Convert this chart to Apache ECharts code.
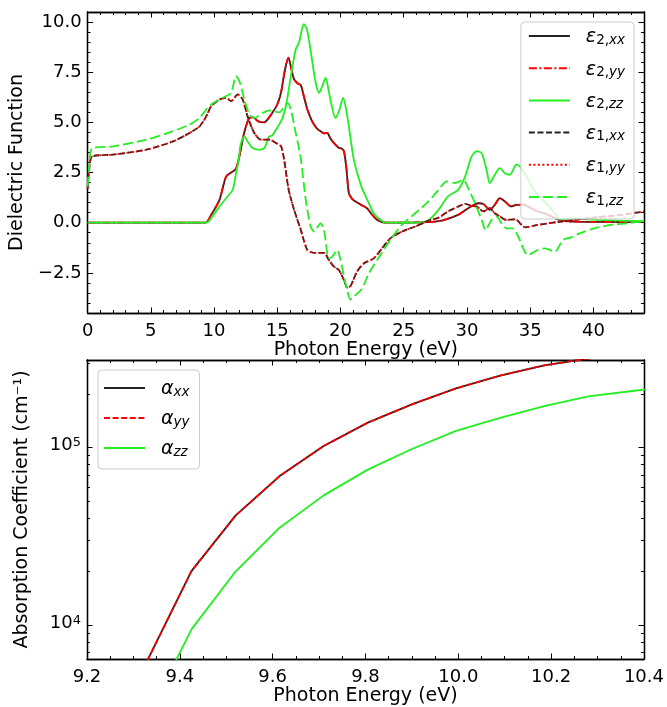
<!DOCTYPE html>
<html><head><meta charset="utf-8">
<script src="https://cdn.jsdelivr.net/npm/echarts@6/dist/echarts.min.js"></script>
<style>html,body{margin:0;padding:0;background:#fff}#c{width:667px;height:707px}</style>
</head><body><div id="c"></div><script>
// ---------------- DATA ----------------
// Top panel: dielectric function (energy in eV)
const e2xxE = [0, 9.33, 9.77, 10.43, 10.95, 11.47, 11.74, 12.0, 12.26, 12.5, 12.79, 13.1, 13.5, 13.97, 14.3, 14.6, 15.0, 15.3, 15.6, 15.88, 16.1, 16.33, 16.6, 16.86, 17.1, 17.38, 17.65, 17.9, 18.2, 18.43, 18.7, 18.95, 19.2, 19.48, 19.87, 20.1, 20.27, 20.45, 20.66, 20.9, 21.19, 21.6, 22.1, 22.5, 22.9, 23.55, 27.0, 28.0, 28.5, 29.3, 30.1, 30.9, 31.3, 31.8, 32.2, 32.6, 33.0, 33.5, 33.9, 34.5, 35.0, 35.6, 36.2, 36.7, 37.46, 38.5, 40, 44];
const e2xxV = [0, 0, 0.39, 1.14, 2.3, 2.55, 2.7, 3.3, 4.14, 4.75, 5.22, 5.25, 5.05, 5.0, 5.2, 5.47, 5.89, 6.5, 7.6, 8.22, 7.7, 7.14, 6.95, 6.85, 6.3, 5.64, 5.2, 4.89, 4.65, 4.56, 4.45, 4.47, 4.2, 3.97, 3.72, 3.7, 3.56, 2.8, 1.47, 1.2, 1.06, 0.9, 0.72, 0.4, 0.14, 0.0, 0.03, 0.1, 0.2, 0.39, 0.72, 0.97, 0.93, 0.64, 0.89, 1.22, 1.06, 0.81, 0.89, 0.9, 0.75, 0.56, 0.45, 0.31, 0.1, 0.05, 0.04, 0.03];
const e2yyE = e2xxE.slice();
const e2yyV = e2xxV.slice();
const e2zzE = [0, 9.4, 9.9, 10.43, 10.95, 11.47, 11.74, 11.95, 12.1, 12.4, 12.7, 13.0, 13.44, 13.97, 14.36, 14.6, 14.9, 15.15, 15.4, 15.68, 15.9, 16.07, 16.46, 16.72, 16.9, 17.1, 17.3, 17.5, 17.9, 18.1, 18.3, 18.55, 18.83, 19.0, 19.2, 19.6, 19.9, 20.2, 20.4, 20.66, 21.05, 21.4, 21.7, 22.24, 22.6, 23.0, 23.55, 26.5, 27.0, 27.75, 28.5, 29.3, 29.85, 30.37, 30.77, 31.16, 31.55, 31.8, 32.2, 32.6, 33.0, 33.4, 33.9, 34.18, 34.7, 35.1, 35.6, 36.4, 36.94, 37.46, 37.98, 38.8, 40, 42, 44];
const e2zzV = [0, 0, 0.35, 0.81, 1.22, 1.64, 2.47, 3.14, 3.9, 4.3, 4.0, 3.75, 3.64, 3.72, 4.3, 4.35, 4.64, 4.89, 5.2, 5.8, 6.6, 7.3, 8.64, 8.97, 9.5, 9.89, 9.7, 9.14, 7.47, 6.8, 6.47, 6.8, 7.22, 6.8, 6.14, 5.22, 5.6, 6.22, 5.8, 4.8, 3.14, 2.3, 1.72, 0.97, 0.5, 0.22, 0, 0.02, 0.14, 0.64, 1.31, 1.64, 2.3, 3.3, 3.56, 3.47, 2.64, 1.97, 2.39, 2.72, 2.47, 2.39, 2.89, 2.8, 2.3, 1.8, 1.39, 0.89, 0.47, 0.14, 0.22, 0.22, 0.15, 0.1, 0.08];
const e1xxE = [0, 0.15, 0.35, 2.0, 4.65, 6.75, 8.06, 8.85, 9.38, 9.77, 10.43, 10.95, 11.35, 11.87, 12.26, 12.65, 13.18, 13.7, 14.36, 14.9, 15.3, 15.54, 15.9, 16.33, 16.86, 17.38, 17.9, 18.69, 19.08, 19.48, 19.87, 20.27, 20.53, 20.79, 21.3, 21.84, 22.63, 23.28, 23.94, 24.86, 25.91, 26.96, 27.75, 28.5, 29.6, 29.85, 30.37, 30.77, 31.3, 31.8, 32.2, 32.6, 33.1, 33.8, 34.6, 35.6, 37.46, 40, 42.3, 44];
const e1xxV = [1.7, 2.8, 3.3, 3.39, 3.64, 4.05, 4.47, 4.8, 5.3, 5.8, 6.14, 6.22, 6.06, 6.39, 6.14, 5.3, 4.47, 4.14, 4.14, 3.97, 3.8, 3.14, 1.64, 0.64, -0.36, -1.36, -1.5, -1.5, -1.86, -2.19, -2.36, -2.86, -3.23, -3.16, -2.44, -2.03, -1.78, -1.28, -0.78, -0.44, -0.19, 0.1, 0.25, 0.56, 0.89, 0.94, 0.84, 0.81, 0.56, 0.72, 0.47, 0.31, 0.14, 0.17, -0.23, -0.11, 0.06, 0.25, 0.4, 0.56];
const e1yyE = e1xxE.slice();
const e1yyV = e1xxV.slice();
const e1zzE = [0, 0.15, 0.35, 2.0, 4.65, 6.75, 8.06, 8.85, 9.38, 9.77, 10.43, 10.95, 11.35, 11.74, 12.0, 12.4, 12.79, 13.18, 13.83, 14.4, 15.15, 15.4, 15.8, 16.07, 16.46, 16.86, 17.25, 17.64, 17.9, 18.43, 18.69, 19.08, 19.34, 19.74, 20.0, 20.4, 20.79, 21.05, 21.7, 22.24, 23.15, 23.94, 24.86, 25.91, 26.96, 27.75, 28.4, 29.06, 29.7, 30.1, 30.64, 31.16, 31.47, 31.95, 32.34, 32.73, 33.13, 33.65, 34.05, 34.83, 35.6, 36.15, 36.94, 37.6, 38.24, 38.9, 40.08, 41.4, 42.7, 43.75, 44];
const e1zzV = [1.8, 3.0, 3.7, 3.8, 4.14, 4.56, 4.89, 5.22, 5.64, 5.89, 6.14, 6.31, 6.47, 7.3, 7.06, 6.14, 5.39, 5.22, 5.47, 5.6, 5.5, 5.64, 5.97, 5.64, 4.47, 3.2, 1.14, -0.19, -0.44, -0.03, -0.36, -1.78, -1.69, -1.36, -1.86, -3.03, -3.83, -3.69, -3.28, -2.53, -1.61, -0.86, -0.11, 0.47, 1.06, 1.64, 2.06, 1.97, 2.14, 1.72, 0.97, 0.14, -0.36, 0.14, 0.31, -0.03, -0.28, -0.28, -0.69, -1.61, -1.36, -1.28, -1.44, -0.86, -0.73, -0.53, -0.28, -0.11, -0.03, 0.06, 0.08];

// Bottom panel: absorption coefficient (cm^-1)
const absE = [9.33, 9.425, 9.52, 9.615, 9.71, 9.805, 9.90, 9.995, 10.09, 10.185, 10.28, 10.375, 10.47];
const alphaXX = [6300, 20100, 41300, 69000, 102000, 138000, 175000, 215000, 254000, 290000, 317000, 340000, 362000];
const alphaYY = alphaXX.slice();
const alphaZZ = [3000, 9440, 20000, 35300, 53700, 75000, 98000, 124000, 147000, 171000, 194000, 208000, 222000];

// Tick labels
const topXTicks = [0, 5, 10, 15, 20, 25, 30, 35, 40];
const topYTicks = [-2.5, 0, 2.5, 5, 7.5, 10];
const botXTicks = [9.2, 9.4, 9.6, 9.8, 10.0, 10.2, 10.4];
const botYTicks = [10000, 100000];

// ---------------- HELPERS ----------------
const FONT = 'DejaVu Sans';
const R = v => Math.round(v * 1000) / 1000;
function range(a, b, s) { const r = []; for (let i = 0; a + i * s <= b + 1e-9; i++) r.push(R(a + i * s)); return r; }
const isMult = (v, s) => Math.abs(v / s - Math.round(v / s)) < 1e-6;
const topXMinor = range(0, 44, 1).filter(v => !isMult(v, 5));
const topYMinor = range(-4.5, 10.5, 0.5).filter(v => !isMult(v, 2.5));
const botXMinor = range(9.2, 10.4, 0.05).filter(v => !isMult(v, 0.2));
const botYMinor = [];
for (let p = 3; p <= 5; p++) for (let m = 2; m <= 9; m++) { const v = m * Math.pow(10, p); if (v > 6430 && v < 311000) botYMinor.push(v); }

const MAJ = 5.5, MIN = 3;
function ax(o) {
  const a = {
    type: o.type || 'value', gridIndex: o.grid, position: o.pos, min: o.min, max: o.max,
    axisLine: { show: true, onZero: false, lineStyle: { color: '#000', width: 1.3 } },
    axisTick: { show: true, inside: true, length: o.len, customValues: o.ticks, lineStyle: { color: '#000', width: 1 } },
    axisLabel: { show: false }, splitLine: { show: false }, minorTick: { show: false }, splitArea: { show: false },
    axisPointer: { show: false }
  };
  if (o.type === 'log') a.logBase = 10;
  if (o.fmt) a.axisLabel = { show: true, customValues: o.ticks, formatter: o.fmt, color: '#000', fontSize: 18, fontFamily: FONT, margin: o.margin, rich: o.rich };
  if (o.name) Object.assign(a, { name: o.name, nameLocation: 'middle', nameGap: o.nameGap, nameTextStyle: { color: '#000', fontSize: 19, fontFamily: FONT } });
  return a;
}
const minus = s => s.replace('-', '\u2212');
const supRich = {
  b: { fontSize: 18, fontFamily: FONT, color: '#000', lineHeight: 22, verticalAlign: 'top' },
  p: { fontSize: 13, fontFamily: FONT, color: '#000', lineHeight: 8, verticalAlign: 'top' }
};

const xAxes = [
  ax({ grid: 0, pos: 'bottom', min: 0, max: 44, ticks: topXTicks, len: MAJ, fmt: v => String(v), margin: 9, name: 'Photon Energy (eV)', nameGap: 26 }),
  ax({ grid: 0, pos: 'bottom', min: 0, max: 44, ticks: topXMinor, len: MIN }),
  ax({ grid: 0, pos: 'top', min: 0, max: 44, ticks: topXTicks, len: MAJ }),
  ax({ grid: 0, pos: 'top', min: 0, max: 44, ticks: topXMinor, len: MIN }),
  ax({ grid: 1, pos: 'bottom', min: 9.2, max: 10.4, ticks: botXTicks, len: MAJ, fmt: v => (+v).toFixed(1), margin: 9, name: 'Photon Energy (eV)', nameGap: 28 }),
  ax({ grid: 1, pos: 'bottom', min: 9.2, max: 10.4, ticks: botXMinor, len: MIN }),
  ax({ grid: 1, pos: 'top', min: 9.2, max: 10.4, ticks: botXTicks, len: MAJ }),
  ax({ grid: 1, pos: 'top', min: 9.2, max: 10.4, ticks: botXMinor, len: MIN })
];
const yAxes = [
  ax({ grid: 0, pos: 'left', min: -4.5, max: 10.5, ticks: topYTicks, len: MAJ, fmt: v => minus((+v).toFixed(1)), margin: 6, name: 'Dielectric Function', nameGap: 55 }),
  ax({ grid: 0, pos: 'left', min: -4.5, max: 10.5, ticks: topYMinor, len: MIN }),
  ax({ grid: 0, pos: 'right', min: -4.5, max: 10.5, ticks: topYTicks, len: MAJ }),
  ax({ grid: 0, pos: 'right', min: -4.5, max: 10.5, ticks: topYMinor, len: MIN }),
  ax({ type: 'log', grid: 1, pos: 'left', min: 6430, max: 311000, ticks: botYTicks, len: MAJ, fmt: v => '{b|10}{p|' + Math.round(Math.log10(v)) + '}', margin: 6, rich: supRich, name: 'Absorption Coefficient (cm\u207B\u00B9)', nameGap: 55 }),
  ax({ type: 'log', grid: 1, pos: 'left', min: 6430, max: 311000, ticks: botYMinor, len: MIN }),
  ax({ type: 'log', grid: 1, pos: 'right', min: 6430, max: 311000, ticks: botYTicks, len: MAJ }),
  ax({ type: 'log', grid: 1, pos: 'right', min: 6430, max: 311000, ticks: botYMinor, len: MIN })
];

const BLACK = '#222', RED = '#ff0000', GREEN = '#22ee22';
function ser(name, E, V, color, dash, xi, yi, smooth) {
  return {
    type: 'line', name, xAxisIndex: xi, yAxisIndex: yi,
    data: E.map((e, i) => [e, V[i]]),
    showSymbol: false, symbol: 'none', smooth: smooth, clip: true,
    lineStyle: { color, width: 1.8, type: dash }, itemStyle: { color },
    emphasis: { disabled: true }, silent: true
  };
}
const SM = 0.25;
const DASH = [6, 2.6], DASHDOT = [8, 2.5, 2, 2.5], DOT = [2, 2.5], LDASH = [10, 4];
const series = [
  ser('e2xx', e2xxE, e2xxV, BLACK, 'solid', 0, 0, SM),
  ser('e2yy', e2yyE, e2yyV, RED, DASHDOT, 0, 0, SM),
  ser('e2zz', e2zzE, e2zzV, GREEN, 'solid', 0, 0, SM),
  ser('e1xx', e1xxE, e1xxV, BLACK, DASH, 0, 0, SM),
  ser('e1yy', e1yyE, e1yyV, RED, DOT, 0, 0, SM),
  ser('e1zz', e1zzE, e1zzV, GREEN, LDASH, 0, 0, SM),
  ser('axx', absE, alphaXX, BLACK, 'solid', 4, 4, false),
  ser('ayy', absE, alphaYY, RED, DASH, 4, 4, false),
  ser('azz', absE, alphaZZ, GREEN, 'solid', 4, 4, false)
];

const legLabels = {
  e2xx: '{e|\u03B5}{sn|2,}{si|xx}', e2yy: '{e|\u03B5}{sn|2,}{si|yy}', e2zz: '{e|\u03B5}{sn|2,}{si|zz}',
  e1xx: '{e|\u03B5}{sn|1,}{si|xx}', e1yy: '{e|\u03B5}{sn|1,}{si|yy}', e1zz: '{e|\u03B5}{sn|1,}{si|zz}',
  axx: '{e|\u03B1}{si|xx}', ayy: '{e|\u03B1}{si|yy}', azz: '{e|\u03B1}{si|zz}'
};
const legRich = {
  e: { fontSize: 19, fontStyle: 'italic', fontFamily: FONT, color: '#000', lineHeight: 22, padding: [0, 0, 0, 11], verticalAlign: 'bottom' },
  sn: { fontSize: 13.5, fontFamily: FONT, color: '#000', lineHeight: 10, verticalAlign: 'bottom' },
  si: { fontSize: 13.5, fontStyle: 'italic', fontFamily: FONT, color: '#000', lineHeight: 10, verticalAlign: 'bottom' }
};
function leg(o) {
  return Object.assign({
    orient: 'vertical', backgroundColor: 'rgba(255,255,255,0.8)', borderColor: '#cccccc', borderWidth: 1, borderRadius: 4,
    itemWidth: 41, itemHeight: 14, selectedMode: false,
    itemStyle: { opacity: 0 },
    textStyle: { fontFamily: FONT, fontSize: 19, color: '#000', rich: legRich },
    formatter: n => legLabels[n]
  }, o);
}

const option = {
  animation: false,
  backgroundColor: '#fff',
  grid: [
    { left: 87, right: 23, top: 12, bottom: 394, containLabel: false },
    { left: 87, right: 23, top: 360, bottom: 45, containLabel: false }
  ],
  xAxis: xAxes,
  yAxis: yAxes,
  legend: [
    leg({ right: 33, top: 22, padding: [6, 9, 11, 7], itemGap: 13.2, data: ['e2xx', 'e2yy', 'e2zz', 'e1xx', 'e1yy', 'e1zz'] }),
    leg({ left: 98, top: 370, padding: [10, 10, 10, 5], itemGap: 11, data: ['axx', 'ayy', 'azz'] })
  ],
  series
};
const chart = echarts.init(document.getElementById('c'), null, { renderer: 'canvas' });
chart.setOption(option);
</script></body></html>
